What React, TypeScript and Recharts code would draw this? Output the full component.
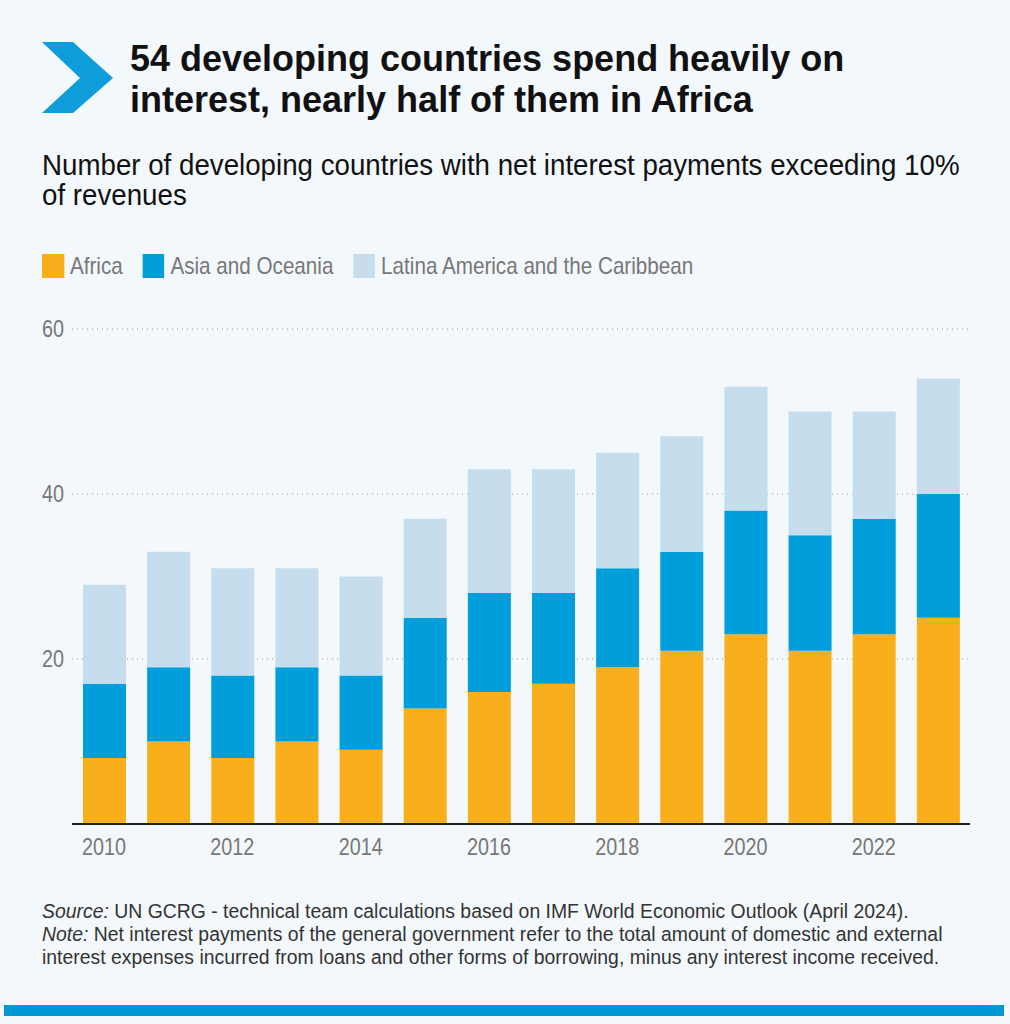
import { BarChart, Bar, XAxis, YAxis, CartesianGrid } from 'recharts'

const years = ['2010', '2011', '2012', '2013', '2014', '2015', '2016', '2017', '2018', '2019', '2020', '2021', '2022', '2023']
const africa = [8, 10, 8, 10, 9, 14, 16, 17, 19, 21, 23, 21, 23, 25]
const asiaOceania = [9, 9, 10, 9, 9, 11, 12, 11, 12, 12, 15, 14, 14, 15]
const latinAmerica = [12, 14, 13, 12, 12, 12, 15, 15, 14, 14, 15, 15, 13, 14]
const yTicks = [20, 40, 60]

const series = [
  { key: 'africa', name: 'Africa', color: '#F9AF1B' },
  { key: 'asia', name: 'Asia and Oceania', color: '#009EDB' },
  { key: 'latin', name: 'Latina America and the Caribbean', color: '#C5DDEC' },
]

const data = years.map((year, i) => ({
  year,
  africa: africa[i],
  asia: asiaOceania[i],
  latin: latinAmerica[i],
}))

const sans = "'Liberation Sans', Arial, sans-serif"
// no narrow font installed, so squeeze Liberation Sans horizontally
const squeeze = 0.86

// axis tick drawn with a horizontal squeeze so it looks like the condensed original
function NarrowTick(props: any) {
  const { x, y, payload, textAnchor, shift } = props
  return (
    <text
      transform={`translate(${x},${y}) scale(${squeeze},1)`}
      textAnchor={textAnchor}
      dy={shift}
      fill="#777"
      fontSize={23}
      fontFamily={sans}
    >
      {payload.value}
    </text>
  )
}

export default function App() {
  return (
    <div
      style={{
        position: 'absolute',
        left: 0,
        top: 0,
        width: 1010,
        height: 1024,
        background: '#F3F8FC',
        overflow: 'hidden',
      }}
    >
      <svg style={{ position: 'absolute', left: 0, top: 0 }} width={130} height={130}>
        <polygon points="42,42 73,42 113,78 73,113 42,113 80,78" fill="#0E9DDA" />
      </svg>
      <div
        style={{
          position: 'absolute',
          left: 130,
          top: 38,
          fontFamily: sans,
          fontWeight: 700,
          fontSize: 36,
          lineHeight: '41px',
          color: '#111',
          whiteSpace: 'nowrap',
        }}
      >
        54 developing countries spend heavily on
        <br />
        interest, nearly half of them in Africa
      </div>
      <div
        style={{
          position: 'absolute',
          left: 42,
          top: 150,
          fontFamily: sans,
          fontSize: 29,
          lineHeight: '30px',
          color: '#111',
          whiteSpace: 'nowrap',
          transform: 'scaleX(0.955)',
          transformOrigin: 'left top',
        }}
      >
        Number of developing countries with net interest payments exceeding 10%
        <br />
        of revenues
      </div>

      <div
        style={{
          position: 'absolute',
          left: 42,
          top: 252,
          display: 'flex',
          alignItems: 'center',
          fontFamily: sans,
          fontSize: 24,
          color: '#777',
          whiteSpace: 'nowrap',
          transform: `scaleX(${squeeze})`,
          transformOrigin: 'left top',
        }}
      >
        {series.map((s) => (
          <div key={s.key} style={{ display: 'flex', alignItems: 'center', marginRight: 23 }}>
            <span style={{ display: 'inline-block', width: 25.5, height: 24, background: s.color, marginRight: 7 }} />
            <span>{s.name}</span>
          </div>
        ))}
      </div>

      <div style={{ position: 'absolute', left: 0, top: 300 }}>
        <BarChart
          width={1010}
          height={570}
          data={data}
          margin={{ top: 29, right: 40, left: 42, bottom: 6 }}
          barSize={43}
        >
          <CartesianGrid vertical={false} stroke="#999" strokeDasharray="1 4" />
          <XAxis
            dataKey="year"
            interval={1}
            tickLine={false}
            axisLine={{ stroke: '#222', strokeWidth: 2 }}
            tickMargin={9}
            height={40}
            tick={<NarrowTick shift="0.71em" />}
          />
          <YAxis
            domain={[0, 60]}
            ticks={yTicks}
            width={30}
            axisLine={false}
            tickLine={false}
            tick={<NarrowTick shift="0.355em" />}
          />
          {series.map((s) => (
            <Bar key={s.key} dataKey={s.key} name={s.name} stackId="a" fill={s.color} isAnimationActive={false} />
          ))}
        </BarChart>
      </div>

      <div
        style={{
          position: 'absolute',
          left: 42,
          top: 900,
          fontFamily: sans,
          fontSize: 20,
          lineHeight: '23px',
          color: '#333',
          whiteSpace: 'nowrap',
          transform: 'scaleX(0.97)',
          transformOrigin: 'left top',
        }}
      >
        <i>Source:</i> UN GCRG - technical team calculations based on IMF World Economic Outlook (April 2024).
        <br />
        <i>Note:</i> Net interest payments of the general government refer to the total amount of domestic and external
        <br />
        interest expenses incurred from loans and other forms of borrowing, minus any interest income received.
      </div>
      <div style={{ position: 'absolute', left: 4, top: 1005, width: 1000, height: 11, background: '#0098D6' }} />
    </div>
  )
}
